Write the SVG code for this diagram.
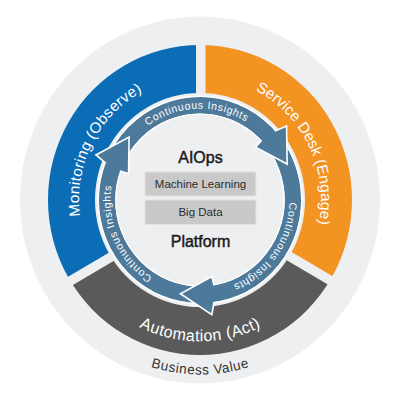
<svg xmlns="http://www.w3.org/2000/svg" width="400" height="400" viewBox="0 0 400 400">
  <style>
    .seglabel { font-family: "Liberation Sans", Arial, sans-serif; fill: #ffffff; font-size: 15px; }
    .ci { font-family: "Liberation Sans", Arial, sans-serif; fill: #ffffff; font-size: 10.5px; }
    .title { font-family: "Liberation Sans", Arial, sans-serif; fill: #1a1a1a; stroke: #1a1a1a; stroke-width: 0.45; font-size: 16px; text-anchor: middle; }
    .box { fill: #c9c9c9; stroke: #e2e2e2; stroke-width: 1; }
    .boxtxt { font-family: "Liberation Sans", Arial, sans-serif; fill: #2b2b2b; font-size: 11.5px; text-anchor: middle; }
    .gap { stroke: #eeeff1; stroke-width: 9.5; fill: none; }
    .head { fill: #4d7a9b; }
    .headline { fill: none; stroke: #ffffff; stroke-width: 1.6; stroke-linejoin: miter; }
  </style>
  <defs>
    <path id="pMon" d="M135.88,302.61 A121,121 0 0 1 245.33,87.81"/>
    <path id="pSvc" d="M157.03,86.89 A121,121 0 0 1 261.97,303.93"/>
    <path id="pAut" d="M62.02,212.07 A138.5,138.5 0 0 0 337.98,212.07"/>
    <path id="pBiz" d="M29.65,214.90 A171,171 0 0 0 370.35,214.90"/>
    <path id="pCiTop" d="M110.58,196.10 A89.5,89.5 0 0 1 288.73,188.32"/>
    <path id="pCiRight" d="M257.19,131.18 A89.5,89.5 0 0 1 155.66,277.74"/>
    <path id="pCiLeft" d="M229.88,284.37 A89.5,89.5 0 0 1 155.93,122.10"/>
  </defs>
  <g transform="translate(0,-4) scale(1,1.02)">
    <g id="outer-disk">
      <circle cx="200" cy="200" r="180" fill="#eeeff1"/>
    </g>
    <g id="monitoring">
      <path d="M200,48 A152,152 0 0 0 68.36,276 L109.07,252.5 A105,105 0 0 1 200,95 Z" fill="#0c6db7"/>
    </g>
    <g id="service-desk">
      <path d="M200,48 A152,152 0 0 1 331.64,276 L290.93,252.5 A105,105 0 0 0 200,95 Z" fill="#f39322"/>
    </g>
    <g id="automation">
      <path d="M68.36,276 A152,152 0 0 0 331.64,276 L290.93,252.5 A105,105 0 0 1 109.07,252.5 Z" fill="#5a5a5a"/>
    </g>
    <g id="gaps">
      <path class="gap" d="M200.8,20 L200.8,204 M49.25,291.5 L200.8,204 L352.35,291.5"/>
    </g>
    <g id="connectors">
      <circle cx="200" cy="200" r="93" fill="none" stroke="#4d7a9b" stroke-width="16.5"/>
      <circle cx="200" cy="200" r="101.8" fill="none" stroke="#ffffff" stroke-width="1.5"/>
      <circle cx="200" cy="200" r="84.2" fill="none" stroke="#ffffff" stroke-width="1.2"/>
      <polygon class="head" points="275.06,132.42 286.56,127.36 287.15,164.79 255.58,148.17 261.66,141.49"/>
      <polyline class="headline" points="275.06,132.42 286.56,127.36 287.15,164.79 255.58,148.17 261.66,141.49"/>
      <polygon class="head" points="214.06,300.02 211.81,312.38 180.46,291.95 211.89,275.06 214.03,283.83"/>
      <polyline class="headline" points="214.06,300.02 211.81,312.38 180.46,291.95 211.89,275.06 214.03,283.83"/>
      <polygon class="head" points="105.71,163.80 95.98,155.85 129.06,138.33 128.58,174.01 119.88,171.63"/>
      <polyline class="headline" points="105.71,163.80 95.98,155.85 129.06,138.33 128.58,174.01 119.88,171.63"/>
      <text class="ci"><textPath href="#pCiTop" startOffset="50%" text-anchor="middle" textLength="104" lengthAdjust="spacing">Continuous Insights</textPath></text>
      <text class="ci"><textPath href="#pCiRight" startOffset="50%" text-anchor="middle" textLength="104" lengthAdjust="spacing">Continuous Insights</textPath></text>
      <text class="ci"><textPath href="#pCiLeft" startOffset="50%" text-anchor="middle" textLength="104" lengthAdjust="spacing">Continuous Insights</textPath></text>
    </g>
    <g id="segment-labels">
      <text class="seglabel"><textPath href="#pMon" startOffset="50%" text-anchor="middle" textLength="146" lengthAdjust="spacing">Monitoring (Observe)</textPath></text>
      <text class="seglabel"><textPath href="#pSvc" startOffset="50%" text-anchor="middle" textLength="156" lengthAdjust="spacing">Service Desk (Engage)</textPath></text>
      <text class="seglabel" style="font-size:16px"><textPath href="#pAut" startOffset="50%" text-anchor="middle" textLength="126" lengthAdjust="spacing">Automation (Act)</textPath></text>
    </g>
    <g id="business-value">
      <text style="font-family:'Liberation Sans',Arial,sans-serif;font-size:13.5px;fill:#333333"><textPath href="#pBiz" startOffset="50%" text-anchor="middle" textLength="100" lengthAdjust="spacing">Business Value</textPath></text>
    </g>
    <g id="platform">
      <text class="title" x="200.5" y="163.5">AIOps</text>
      <rect class="box" x="145" y="172.5" width="111" height="23.5"/>
      <text class="boxtxt" x="200.5" y="188.5">Machine Learning</text>
      <rect class="box" x="145" y="200" width="111" height="24"/>
      <text class="boxtxt" x="200.5" y="216">Big Data</text>
      <text class="title" x="200.5" y="246">Platform</text>
    </g>
  </g>
</svg>
